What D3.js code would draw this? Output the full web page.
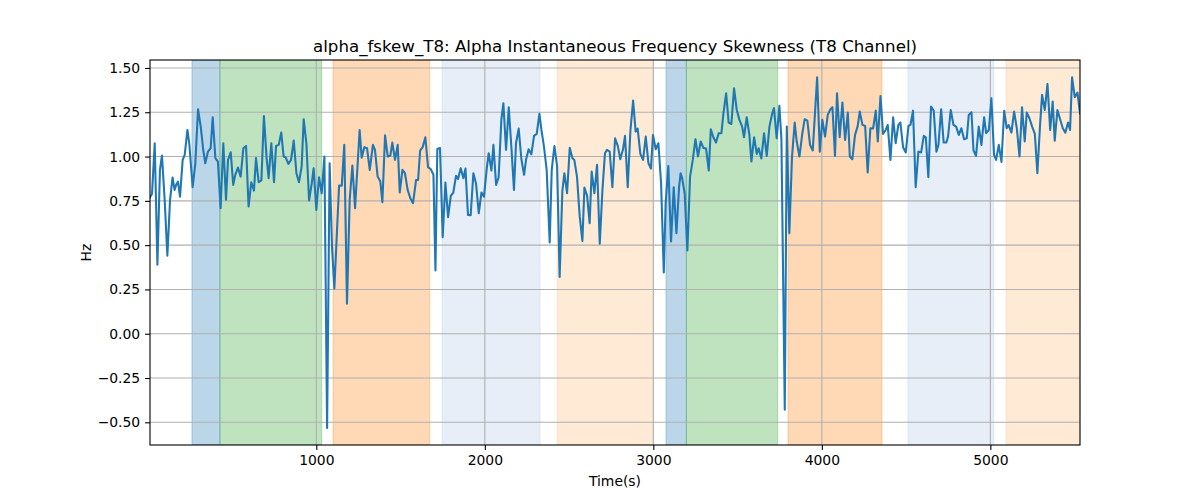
<!DOCTYPE html>
<html>
<head>
<meta charset="utf-8">
<script src="https://cdn.jsdelivr.net/npm/d3@7"></script>
<style>
  html, body { margin: 0; padding: 0; background: #fff; }
  text { font-family: "DejaVu Sans", sans-serif; fill: #000; }
</style>
</head>
<body>
<svg id="chart" width="1200" height="500"></svg>
<script>
const titleText = "alpha_fskew_T8: Alpha Instantaneous Frequency Skewness (T8 Channel)";
const xLabel = "Time(s)";
const yLabel = "Hz";
const xTicks = [1000, 2000, 3000, 4000, 5000];
const yTicks = [-0.5, -0.25, 0, 0.25, 0.5, 0.75, 1.0, 1.25, 1.5];

const bandStarts = [262, 428, 1099, 1746, 2429, 3075, 3196, 3799, 4511, 5093];
const bandEnds   = [428, 1032, 1673, 2328, 3000, 3196, 3738, 4357, 5020, 5532];
const bandColors = ["#1f77b4", "#2ca02c", "#ff7f0e", "#aec7e8", "#ffbb78",
                    "#1f77b4", "#2ca02c", "#ff7f0e", "#aec7e8", "#ffbb78"];

const times = [
13,25,41,57,72,84,100,116,132,147,159,168,179,191,207,219,235,246,266,282,298,314,329,341,357,373,385,401,416,432,448,464,476,492,507,519,535,551,567,583,598,614,630,642,658,674,689,705,717,733,749,761,777,792,
806,818,834,850,866,882,897,913,925,941,957,973,984,1000,1016,1032,1048,1064,1079,1093,1107,1135,1151,1166,1182,1198,1214,1230,1257,1269,1285,1301,1317,1336,1348,1364,1380,1392,1408,1424,1439,1451,1467,1483,1495,1511,1526,1542,1558,1574,1592,
1604,1616,1631,1647,1663,1679,1695,1707,1718,1734,1750,1766,1782,1798,1813,1829,1841,1857,1873,1885,1900,1916,1932,1948,1964,1980,1995,2011,2023,2039,2051,2067,2082,2098,2110,2126,2142,2158,2173,2185,2201,2217,2233,2245,2260,2276,2292,2308,2324,2336,2351,2367,
2385,2397,2413,2429,2444,2460,2472,2488,2504,2520,2531,2547,2563,2579,2591,2607,2622,2634,2650,2666,2682,2698,2713,2725,2741,2757,2773,2789,2804,2820,2832,2848,2864,2880,2895,2907,2923,2939,2955,2971,2986,2998,3014,3030,3046,3062,3073,3089,3105,3121,3137,3153,3162,3171,
3186,3202,3218,3234,3250,3265,3281,3297,3313,3329,3341,3356,3372,3388,3404,3416,3432,3447,3463,3479,3495,3511,3527,3538,3554,3570,3582,3598,3614,3625,3641,3657,3673,3689,3705,3716,3732,3748,3760,3780,3792,3807,3823,3839,3851,3867,3883,3898,3914,3930,3946,
3972,3988,4003,4019,4035,4051,4063,4078,4090,4106,4122,4138,4154,4166,4181,4197,4213,4225,4241,4257,4272,4288,4304,4320,4332,4348,4363,4379,4391,4407,4423,4438,4454,4466,4482,4498,4514,4526,4541,4557,4573,4589,4605,4617,4632,4648,4664,4680,4692,4708,4723,4739,
4749,4765,4781,4797,4813,4828,4844,4860,4872,4888,4900,4915,4931,4947,4963,4975,4991,5006,5022,5034,5050,5066,5082,5097,5109,5125,5141,5157,5173,5188,5204,5216,5232,5248,5264,5279,5295,5307,5323,5339,5355,5370,5382,5398,5414,5430,5445,5461,5473,5485,5501,5517,5532
];

const values = [
0.77,0.79,1.075,0.389,0.925,1.006,0.756,0.440,0.756,0.882,0.812,0.840,0.859,0.774,0.981,1.009,1.150,1.075,0.827,0.962,1.267,1.169,1.038,0.962,1.028,1.047,1.222,0.991,0.972,0.709,1.075,0.756,0.981,1.024,0.840,0.897,0.938,0.887,1.047,1.060,0.718,0.855,0.808,0.991,0.855,0.865,1.229,0.991,0.878,1.075,0.855,1.060,1.066,1.135,
1.0,0.996,0.959,0.981,1.090,0.906,0.855,0.944,1.211,1.075,0.752,0.850,0.934,0.699,0.883,0.793,1.0,-0.532,0.962,0.492,0.256,0.836,0.836,1.066,0.169,0.756,0.949,0.709,1.150,0.994,1.053,1.047,0.925,1.066,1.038,0.887,0.859,0.742,1.120,1.0,1.004,1.079,0.981,1.066,0.797,0.925,0.906,0.812,0.765,0.737,0.868,
0.868,1.034,1.053,1.109,0.940,0.929,0.897,0.357,1.043,1.049,0.545,0.853,0.658,0.778,0.797,0.891,0.874,0.934,0.878,0.932,0.671,0.669,0.906,0.846,0.680,0.797,0.774,0.929,1.019,0.921,1.066,0.840,0.883,1.207,1.301,1.038,1.278,1.047,0.812,1.075,1.158,0.985,0.897,0.985,1.041,1.013,1.117,1.128,1.241,1.150,1.056,0.925,
0.515,0.925,1.060,0.944,0.320,0.803,0.906,0.793,1.049,0.991,0.981,0.887,0.662,0.524,0.825,0.778,0.624,0.915,0.793,0.953,0.508,0.812,1.019,1.038,1.028,0.827,1.103,1.060,0.985,1.041,1.117,0.827,1.147,1.316,1.141,1.158,1.015,0.981,1.113,0.962,0.932,1.122,1.041,1.075,0.850,0.346,0.737,0.947,0.521,0.827,0.568,0.831,0.906,0.878,
0.793,0.470,0.887,0.981,1.098,1.0,1.085,1.049,1.045,0.921,1.154,1.109,1.079,1.132,1.132,1.244,1.357,1.192,1.184,1.385,1.263,1.207,1.169,1.109,1.222,1.122,0.972,1.109,1.015,1.047,0.989,1.132,1.004,1.169,1.241,1.273,1.103,1.286,1.10,-0.429,1.169,0.568,1.0,1.192,1.085,1.0,1.122,1.211,1.203,1.066,1.034,
1.447,1.028,1.207,1.113,1.235,1.267,1.278,1.004,1.357,1.109,1.305,1.094,1.248,1.0,0.985,1.122,1.173,1.254,1.179,1.173,0.910,1.160,1.158,1.259,1.085,1.342,1.128,1.150,1.179,0.981,1.222,1.075,1.179,1.192,1.053,1.023,1.173,1.179,1.259,0.827,1.028,1.023,1.117,1.109,0.883,1.282,1.259,1.028,1.066,1.267,1.079,1.079,
1.113,1.263,1.179,1.169,1.122,1.160,1.098,1.103,1.235,1.250,1.034,1.004,1.169,1.066,1.222,1.132,1.150,1.329,1.009,0.981,1.066,0.970,1.259,1.160,1.177,1.135,1.254,1.160,1.0,1.278,1.085,1.248,1.216,1.169,1.128,0.906,1.179,1.348,1.263,1.410,1.150,1.310,1.090,1.263,1.211,1.160,1.135,1.192,1.150,1.447,1.335,1.361,1.244
];

const W = 1200, H = 500;
const m = { left: 150, right: 1080, top: 60, bottom: 445 };
const svg = d3.select("#chart");

const x = d3.scaleLinear().domain([13, 5532]).range([m.left, m.right]);
const y = d3.scaleLinear().domain([-0.628, 1.545]).range([m.bottom, m.top]);

svg.append("defs").append("clipPath").attr("id", "clip")
  .append("rect").attr("x", m.left).attr("y", m.top)
  .attr("width", m.right - m.left).attr("height", m.bottom - m.top);

// bands
const bands = bandStarts.map((s, i) => ({ s, e: bandEnds[i], c: bandColors[i] }));
svg.append("g").attr("clip-path", "url(#clip)").selectAll("rect").data(bands).join("rect")
  .attr("x", d => x(d.s)).attr("width", d => x(d.e) - x(d.s))
  .attr("y", m.top).attr("height", m.bottom - m.top)
  .attr("fill", d => d.c).attr("fill-opacity", 0.3)
  .attr("stroke", d => d.c).attr("stroke-opacity", 0.3).attr("stroke-width", 1);

// grid
const grid = svg.append("g");
grid.selectAll(".gx").data(xTicks).join("line")
  .attr("x1", d => x(d)).attr("x2", d => x(d))
  .attr("y1", m.top).attr("y2", m.bottom)
  .attr("stroke", "#b0b0b0").attr("stroke-width", 1.1);
grid.selectAll(".gy").data(yTicks).join("line")
  .attr("x1", m.left).attr("x2", m.right)
  .attr("y1", d => y(d)).attr("y2", d => y(d))
  .attr("stroke", "#b0b0b0").attr("stroke-width", 1.1);

// line
const pts = times.map((t, i) => [t, values[i]]);
svg.append("path").attr("clip-path", "url(#clip)")
  .datum(pts)
  .attr("d", d3.line().x(d => x(d[0])).y(d => y(d[1])))
  .attr("fill", "none").attr("stroke", "#1f77b4").attr("stroke-width", 2.08)
  .attr("stroke-linejoin", "round").attr("stroke-linecap", "square");

// axes
const xAxis = d3.axisBottom(x).tickValues(xTicks).tickFormat(d3.format("d"))
  .tickSizeInner(4.9).tickSizeOuter(0).tickPadding(4.9);
const gx = svg.append("g").attr("transform", `translate(0,${m.bottom})`).call(xAxis);
const yAxis = d3.axisLeft(y).tickValues(yTicks).tickFormat(d3.format(".2f"))
  .tickSizeInner(4.9).tickSizeOuter(0).tickPadding(4.9);
const gy = svg.append("g").attr("transform", `translate(${m.left},0)`).call(yAxis);
[gx, gy].forEach(g => {
  g.select(".domain").remove();
  g.selectAll(".tick line").attr("stroke", "#000").attr("stroke-width", 1.1);
  g.selectAll(".tick text").attr("font-size", "13.9px").attr("font-family", "DejaVu Sans");
});
gy.selectAll(".tick text").text(d => d3.format(".2f")(d).replace("-", "\u2212"));

// spines
svg.append("rect").attr("x", m.left).attr("y", m.top)
  .attr("width", m.right - m.left).attr("height", m.bottom - m.top)
  .attr("fill", "none").attr("stroke", "#000").attr("stroke-width", 1.1);

// texts
svg.append("text").attr("x", (m.left + m.right) / 2).attr("y", 52)
  .attr("text-anchor", "middle").attr("font-size", "16.67px").text(titleText);
svg.append("text").attr("x", (m.left + m.right) / 2).attr("y", 486)
  .attr("text-anchor", "middle").attr("font-size", "13.9px").text(xLabel);
svg.append("text").attr("transform", `translate(91,${(m.top + m.bottom) / 2}) rotate(-90)`)
  .attr("text-anchor", "middle").attr("font-size", "13.9px").text(yLabel);
</script>
</body>
</html>
